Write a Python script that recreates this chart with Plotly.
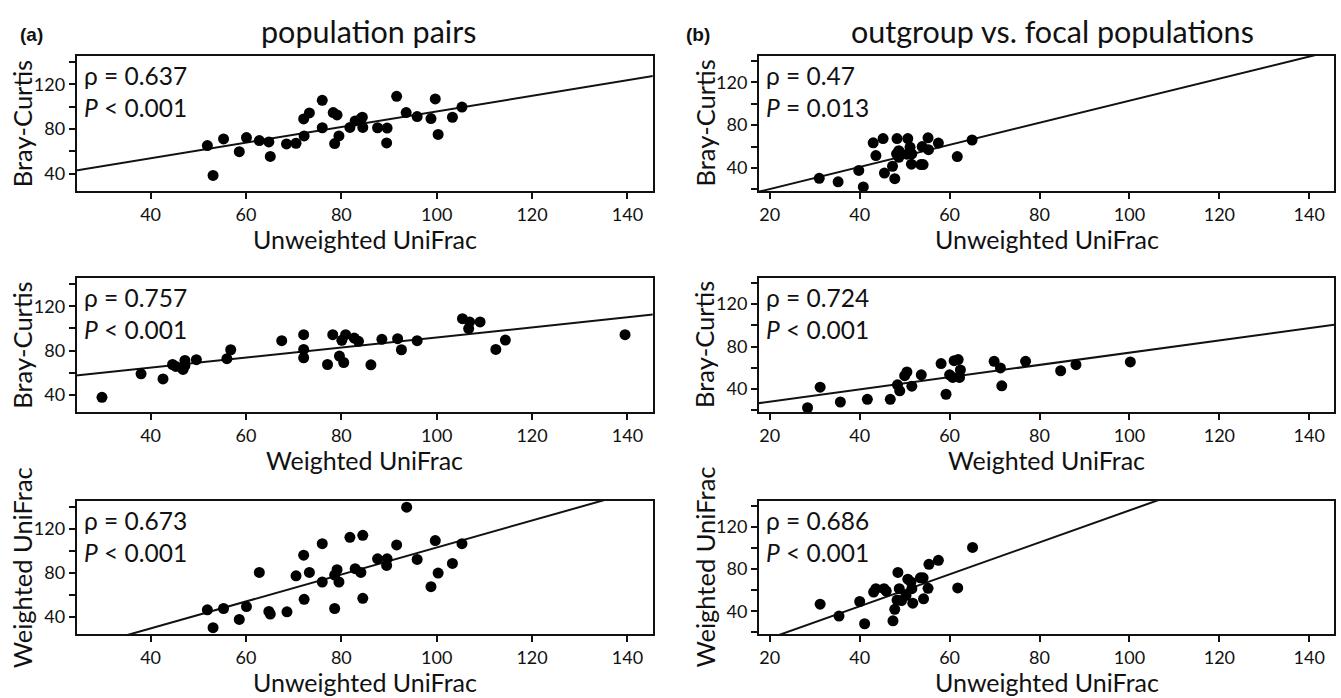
import plotly.graph_objects as go

# ---------------- data ----------------
# (a) population pairs
a1_x = [51.9, 53.1, 55.3, 58.6, 60.1, 62.8, 64.8, 65.1, 68.5, 70.5, 72.1, 72.2, 73.3, 76.0, 76.0,
        78.3, 78.6, 79.1, 79.5, 81.8, 82.9, 84.1, 84.5, 84.4, 87.6, 89.6, 89.5, 91.6, 93.6, 95.9,
        98.8, 99.7, 100.3, 103.3, 105.3]
a1_y = [65.2, 38.5, 71.2, 59.7, 72.4, 69.7, 68.5, 55.5, 66.7, 67.3, 89.1, 73.9, 94.5, 105.8, 81.2,
        94.8, 67.0, 92.7, 73.9, 81.5, 87.3, 89.4, 81.5, 90.6, 81.2, 80.9, 67.6, 109.4, 94.8, 91.2,
        89.4, 107.0, 75.2, 90.6, 99.7]

a2_x = [29.8, 38.0, 42.6, 44.6, 45.3, 46.8, 47.2, 47.2, 49.6, 56.0, 56.8, 67.5, 72.1, 72.1, 72.1,
        77.1, 78.2, 79.6, 80.1, 80.5, 80.9, 82.7, 83.6, 86.2, 88.5, 91.8, 92.6, 95.9, 105.4, 106.9,
        106.7, 109.1, 112.4, 114.4, 139.5]
a2_y = [37.8, 59.0, 54.4, 67.4, 65.6, 62.9, 71.1, 66.5, 71.7, 72.6, 80.7, 88.9, 94.3, 81.0, 73.5,
        67.4, 94.3, 75.0, 89.2, 69.2, 94.3, 91.3, 88.3, 67.1, 90.1, 90.7, 80.7, 88.9, 108.8, 105.8,
        99.8, 105.8, 81.0, 89.5, 94.3]

a3_x = [51.9, 53.1, 55.3, 58.6, 60.1, 62.8, 64.8, 65.1, 68.6, 70.5, 72.1, 72.2, 73.3, 76.0, 76.0,
        78.6, 78.6, 79.1, 79.5, 81.8, 82.9, 84.1, 84.5, 84.5, 87.6, 89.6, 89.5, 93.7, 91.6, 95.9,
        98.8, 99.7, 100.3, 103.3, 105.3]
a3_y = [46.5, 30.2, 47.7, 37.8, 49.5, 80.5, 45.0, 42.6, 44.7, 77.4, 96.2, 56.1, 80.5, 106.7, 71.8,
        78.1, 47.7, 83.0, 71.8, 112.5, 83.9, 80.5, 114.3, 57.0, 92.9, 92.9, 86.9, 139.9, 105.5, 92.3,
        67.6, 109.5, 79.9, 88.7, 106.7]

# (b) outgroup vs. focal populations
b1_x = [31.0, 35.2, 39.8, 40.8, 43.0, 43.6, 45.2, 45.5, 47.3, 47.8, 48.3, 48.2, 48.7, 48.7, 50.5,
        50.7, 51.2, 51.6, 51.5, 53.6, 54.1, 53.9, 55.2, 55.3, 57.5, 61.7, 65.0]
b1_y = [30.3, 27.1, 37.7, 22.3, 63.5, 51.6, 67.4, 35.2, 41.6, 30.0, 67.4, 53.2, 56.1, 50.0, 52.9,
        67.4, 59.4, 53.2, 43.5, 43.2, 43.2, 60.0, 68.1, 57.1, 63.2, 50.6, 66.1]

b2_x = [28.4, 31.2, 35.7, 41.7, 46.8, 48.4, 48.9, 50.0, 50.5, 51.6, 53.7, 58.1, 59.2, 60.0, 60.7,
        61.0, 61.9, 62.4, 62.2, 69.9, 71.3, 71.6, 76.9, 84.7, 88.1, 100.2]
b2_y = [22.5, 41.8, 27.9, 30.4, 30.4, 44.1, 38.4, 52.6, 56.1, 42.8, 53.5, 64.0, 35.2, 53.5, 51.0,
        66.8, 67.8, 58.0, 51.0, 66.2, 59.9, 43.1, 66.2, 57.3, 63.0, 65.6]

b3_x = [31.2, 35.4, 40.0, 41.1, 43.1, 43.6, 45.4, 45.9, 47.4, 47.8, 48.5, 48.3, 48.8, 49.3, 50.3,
        50.7, 51.6, 51.8, 51.4, 53.5, 54.1, 54.2, 55.2, 55.4, 57.5, 61.8, 65.1]
b3_y = [46.7, 35.5, 49.3, 28.2, 58.2, 61.4, 61.4, 59.2, 31.0, 41.9, 76.8, 50.6, 61.4, 50.2, 55.0,
        70.4, 61.4, 47.7, 67.8, 71.7, 71.7, 51.8, 61.8, 84.5, 88.3, 62.1, 100.5]

# fitted lines (slope, intercept)
fit_slope = [0.700, 0.455, 1.227, 1.03, 0.576, 1.514]
fit_intercept = [25.85, 46.35, -19.5, -0.24, 16.7, -15.8]

rho_text = ["0.637", "0.757", "0.673", "0.47", "0.724", "0.686"]
p_text = ["&lt; 0.001", "&lt; 0.001", "&lt; 0.001", "= 0.013", "&lt; 0.001", "&lt; 0.001"]

x_titles = ["Unweighted UniFrac", "Weighted UniFrac", "Unweighted UniFrac"] * 2
y_titles = ["Bray-Curtis", "Bray-Curtis", "Weighted UniFrac"] * 2

col_titles = ["population pairs", "outgroup vs. focal populations"]
col_tags = ["(a)", "(b)"]

left_xticks = [40, 60, 80, 100, 120, 140]
right_xticks = [20, 40, 60, 80, 100, 120, 140]
left_yticks = [40, 60, 80, 100, 120, 140]
right_yticks = [20, 40, 60, 80, 100, 120, 140]
ylabelled = [40, 80, 120]

panel_x = [a1_x, a2_x, a3_x, b1_x, b2_x, b3_x]
panel_y = [a1_y, a2_y, a3_y, b1_y, b2_y, b3_y]

# ---------------- layout geometry ----------------
W, H = 1341, 698
col_px = [(76.7, 652.7), (759.0, 1334.0)]
row_px = [(56.0, 191.0), (278.0, 412.0), (501.0, 634.0)]
x_ranges = [[24.5, 145.3], [17.6, 145.5]]
y_ranges = [[24.5, 145.5], [18.5, 144.5]]
title_centers = [368.0, 1052.0]
tag_centers = [31.0, 698.0]

FONT = "Lato"
INK = "#111111"

fig = go.Figure()
annotations = []
layout = dict(
    width=W, height=H,
    margin=dict(l=0, r=0, t=0, b=0),
    paper_bgcolor="white", plot_bgcolor="white",
    showlegend=False,
    font=dict(family=FONT, color=INK),
)

for i in range(6):
    col = i // 3
    row = i % 3
    n = i + 1
    xa = "x" if n == 1 else f"x{n}"
    ya = "y" if n == 1 else f"y{n}"
    x0, x1 = col_px[col]
    y0, y1 = row_px[row]
    xd = [x0 / W, x1 / W]
    yd = [1 - y1 / H, 1 - y0 / H]

    xr = x_ranges[col]
    yr = y_ranges[col]
    # regression line
    lx = [xr[0] - 10, xr[1] + 10]
    ly = [fit_slope[i] * v + fit_intercept[i] for v in lx]
    fig.add_trace(go.Scatter(x=lx, y=ly, mode="lines", xaxis=xa, yaxis=ya,
                             line=dict(color=INK, width=2), hoverinfo="skip"))
    fig.add_trace(go.Scatter(x=panel_x[i], y=panel_y[i], mode="markers", xaxis=xa, yaxis=ya,
                             marker=dict(color="black", size=11, line=dict(width=0)),
                             cliponaxis=False))

    xt = left_xticks if col == 0 else right_xticks
    yt = left_yticks if col == 0 else right_yticks
    common = dict(showgrid=False, zeroline=False, showline=True, linecolor=INK, linewidth=2,
                  mirror=True, ticks="outside", ticklen=6, tickwidth=1.5, tickcolor=INK,
                  tickfont=dict(family=FONT, size=18, color=INK))
    layout["xaxis" if n == 1 else f"xaxis{n}"] = dict(
        common, domain=xd, range=xr, anchor=ya, tickmode="array", tickvals=xt,
        ticktext=[str(v) for v in xt], fixedrange=True)
    layout["yaxis" if n == 1 else f"yaxis{n}"] = dict(
        common, domain=yd, range=yr, anchor=xa, tickmode="array", tickvals=yt,
        ticktext=[str(v) if v in ylabelled else "" for v in yt], fixedrange=True)

    xdom = (xa + " domain")
    ydom = (ya + " domain")
    annotations.append(dict(text=f"ρ = {rho_text[i]}", xref=xdom, yref=ydom, x=0, y=1,
                            xanchor="left", yanchor="middle", xshift=5, yshift=-19,
                            showarrow=False, font=dict(family=FONT, size=24.5, color=INK)))
    annotations.append(dict(text=f"<i>P</i> {p_text[i]}", xref=xdom, yref=ydom, x=0, y=1,
                            xanchor="left", yanchor="middle", xshift=5, yshift=-51,
                            showarrow=False, font=dict(family=FONT, size=24.5, color=INK)))
    # axis titles
    annotations.append(dict(text=x_titles[i], xref="paper", yref="paper",
                            x=(x0 + x1) / 2 / W, y=1 - (y1 + 48) / H,
                            xanchor="center", yanchor="middle", showarrow=False,
                            font=dict(family=FONT, size=25, color=INK)))
    annotations.append(dict(text=y_titles[i], xref="paper", yref="paper",
                            x=(x0 - 55) / W, y=1 - (y0 + y1) / 2 / H, textangle=-90,
                            xanchor="center", yanchor="middle", showarrow=False,
                            font=dict(family=FONT, size=25.5, color=INK)))

for c in range(2):
    annotations.append(dict(text=col_titles[c], xref="paper", yref="paper",
                            x=title_centers[c] / W, y=1 - 31 / H, xanchor="center", yanchor="middle",
                            showarrow=False, font=dict(family=FONT, size=30.5, color=INK)))
    annotations.append(dict(text=f"<b>{col_tags[c]}</b>", xref="paper", yref="paper",
                            x=tag_centers[c] / W, y=1 - 34 / H,
                            xanchor="center", yanchor="middle", showarrow=False,
                            font=dict(family="Liberation Sans", size=19, color=INK)))

layout["annotations"] = annotations
fig.update_layout(**layout)
fig.write_html("out.html")
